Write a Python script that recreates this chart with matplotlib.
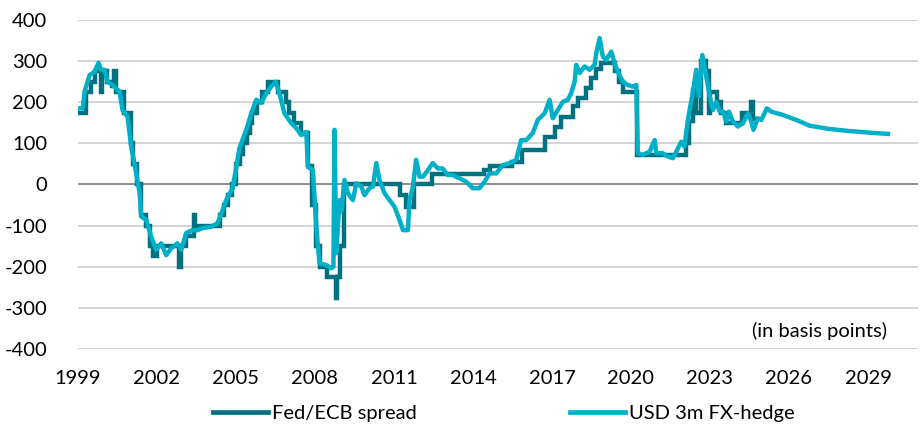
import matplotlib
matplotlib.use("Agg")
import matplotlib.pyplot as plt

# ---------------- data (decimal years, basis points) ----------------
hedge_years = [1999.00, 1999.18, 1999.25, 1999.44, 1999.63, 1999.78, 1999.88, 2000.01, 2000.12, 2000.31,
               2000.58, 2000.69, 2000.88, 2001.02, 2001.21, 2001.34, 2001.40, 2001.59, 2001.78, 2001.97,
               2002.16, 2002.35, 2002.54, 2002.78, 2002.92, 2003.11, 2003.35, 2003.54, 2003.73, 2004.06,
               2004.30, 2004.49, 2004.68, 2004.87, 2005.13, 2005.39, 2005.58, 2005.77, 2005.96, 2006.15,
               2006.34, 2006.50, 2006.65, 2006.84, 2007.10, 2007.29, 2007.48, 2007.67, 2007.73, 2007.92,
               2008.05, 2008.17, 2008.43, 2008.62, 2008.70, 2008.74, 2008.81, 2008.93, 2009.00, 2009.12,
               2009.25, 2009.44, 2009.57, 2009.76, 2009.88, 2010.07, 2010.20, 2010.33, 2010.45, 2010.64,
               2010.83, 2011.02, 2011.21, 2011.34, 2011.53, 2011.59, 2011.72, 2011.84, 2011.97, 2012.10,
               2012.29, 2012.47, 2012.67, 2012.85, 2013.04, 2013.23, 2013.49, 2013.74, 2013.99, 2014.25,
               2014.44, 2014.63, 2014.88, 2015.13, 2015.45, 2015.64, 2015.83, 2016.02, 2016.27, 2016.46,
               2016.72, 2016.91, 2017.03, 2017.22, 2017.41, 2017.60, 2017.73, 2017.86, 2017.92, 2018.05,
               2018.24, 2018.43, 2018.62, 2018.68, 2018.81, 2018.93, 2019.06, 2019.25, 2019.38, 2019.50,
               2019.69, 2019.88, 2020.07, 2020.20, 2020.26, 2020.45, 2020.71, 2020.90, 2020.96, 2021.21,
               2021.40, 2021.59, 2021.78, 2021.91, 2022.03, 2022.16, 2022.35, 2022.48, 2022.58, 2022.71,
               2022.86, 2022.99, 2023.11, 2023.24, 2023.37, 2023.50, 2023.62, 2023.72, 2023.87, 2024.06,
               2024.25, 2024.44, 2024.57, 2024.65, 2024.82, 2024.95, 2025.16, 2025.33, 2025.77, 2026.28,
               2026.78, 2027.54, 2028.30, 2029.06, 2029.76]
hedge_values = [185, 185, 226, 266, 274, 296, 279, 279, 250, 242,
                226, 181, 165, 92, 28, -21, -78, -86, -127, -159,
                -143, -172, -155, -143, -159, -118, -111, -111, -106, -103,
                -94, -62, -30, -10, 88, 133, 173, 206, 198, 222,
                238, 250, 222, 173, 149, 137, 120, 128, 43, 35,
                -103, -192, -196, -204, -200, 133, -167, -38, -65, 11,
                -21, -38, 3, -5, -26, -9, -5, 52, 11, -21,
                -38, -54, -86, -111, -111, -38, -5, 60, 19, 19,
                35, 52, 39, 39, 23, 23, 15, 7, -9, -9,
                7, 27, 27, 47, 53, 60, 108, 108, 125, 157,
                173, 206, 161, 181, 201, 206, 222, 250, 291, 271,
                287, 279, 291, 319, 356, 311, 303, 323, 295, 274,
                250, 242, 238, 242, 76, 72, 80, 108, 76, 76,
                68, 64, 88, 104, 92, 157, 225, 279, 214, 315,
                262, 214, 181, 201, 177, 177, 153, 177, 153, 141,
                149, 173, 153, 133, 161, 157, 185, 177, 169, 157,
                143, 135, 130, 126, 123]

spread_years = [1999.00, 1999.30, 1999.50, 1999.65, 1999.86, 1999.92, 2000.10, 2000.30, 2000.38, 2000.45,
                2000.75, 2001.00, 2001.10, 2001.25, 2001.40, 2001.60, 2001.75, 2001.85, 2002.00, 2002.82,
                2002.90, 2003.10, 2003.40, 2003.46, 2004.40, 2004.55, 2004.70, 2004.85, 2005.00, 2005.15,
                2005.28, 2005.42, 2005.52, 2005.62, 2005.80, 2006.00, 2006.20, 2006.60, 2006.90, 2007.00,
                2007.20, 2007.45, 2007.72, 2007.90, 2008.05, 2008.20, 2008.45, 2008.80, 2008.84, 2008.95,
                2009.10, 2011.21, 2011.45, 2011.75, 2012.45, 2014.40, 2014.65, 2015.50, 2015.85, 2016.75,
                2017.10, 2017.35, 2017.78, 2017.97, 2018.31, 2018.50, 2018.69, 2018.88, 2019.40, 2019.55,
                2019.70, 2020.22, 2022.10, 2022.22, 2022.35, 2022.45, 2022.65, 2022.85, 2022.95, 2023.00,
                2023.25, 2023.40, 2023.60, 2024.20, 2024.56, 2024.62, 2024.70]
spread_values = [175, 225, 250, 275, 225, 275, 250, 240, 275, 225,
                 175, 100, 50, 0, -75, -100, -150, -175, -150, -200,
                 -150, -125, -75, -100, -75, -50, -25, 0, 50, 75,
                 100, 125, 150, 175, 200, 225, 250, 225, 200, 175,
                 150, 125, 45, -50, -150, -200, -225, -275, -225, -150,
                 0, -25, -55, 0, 25, 35, 45, 55, 85, 115,
                 140, 165, 190, 210, 235, 260, 280, 295, 275, 250,
                 225, 72, 100, 155, 230, 175, 300, 275, 175, 225,
                 200, 175, 150, 175, 200, 160, 160]

x_ticks = [1999, 2002, 2005, 2008, 2011, 2014, 2017, 2020, 2023, 2026, 2029]
y_ticks = [-400, -300, -200, -100, 0, 100, 200, 300, 400]
series_labels = ["Fed/ECB spread", "USD 3m FX-hedge"]
note_text = "(in basis points)"

# ---------------- styling ----------------
DARK = "#02717F"
LIGHT = "#00B0C8"
FONT = "Lato"
FS = 14.5

plt.rcParams["font.family"] = [FONT, "DejaVu Sans"]

fig = plt.figure(figsize=(9.23, 4.30), dpi=100)
ax = fig.add_axes([0.0845, 0.1884, 0.9101, 0.7651])

ax.plot(spread_years, spread_values, color=DARK, lw=3.2, drawstyle="steps-post",
        solid_joinstyle="miter", label=series_labels[0], zorder=3)
ax.plot(hedge_years, hedge_values, color=LIGHT, lw=3.2, solid_joinstyle="round",
        label=series_labels[1], zorder=4)

ax.set_xlim(1999.0, 2030.9)
ax.set_ylim(-400, 400)
ax.set_xticks(x_ticks)
ax.set_yticks(y_ticks)
ax.set_xticklabels([str(t) for t in x_ticks])
ax.set_yticklabels([str(t) for t in y_ticks])
ax.tick_params(axis="both", length=0, labelsize=FS, colors="black")
ax.tick_params(axis="y", pad=22)
ax.tick_params(axis="x", pad=15)

for s in ax.spines.values():
    s.set_visible(False)

for t in y_ticks:
    if t == 0:
        ax.axhline(t, color="#8C8C8C", lw=1.4, zorder=1)
    else:
        ax.axhline(t, color="#D4D4D4", lw=1.4, zorder=1)

ax.text(0.963, 0.055, note_text, transform=ax.transAxes, ha="right", va="center",
        fontsize=FS, color="black")

leg = fig.legend(loc="center", bbox_to_anchor=(0.546, 0.038), ncol=2, frameon=False,
                 fontsize=FS, handlelength=2.75, handletextpad=0.2, columnspacing=7.6)
for h in leg.get_lines():
    h.set_linewidth(3.4)

fig.savefig("out.png", dpi=100)
